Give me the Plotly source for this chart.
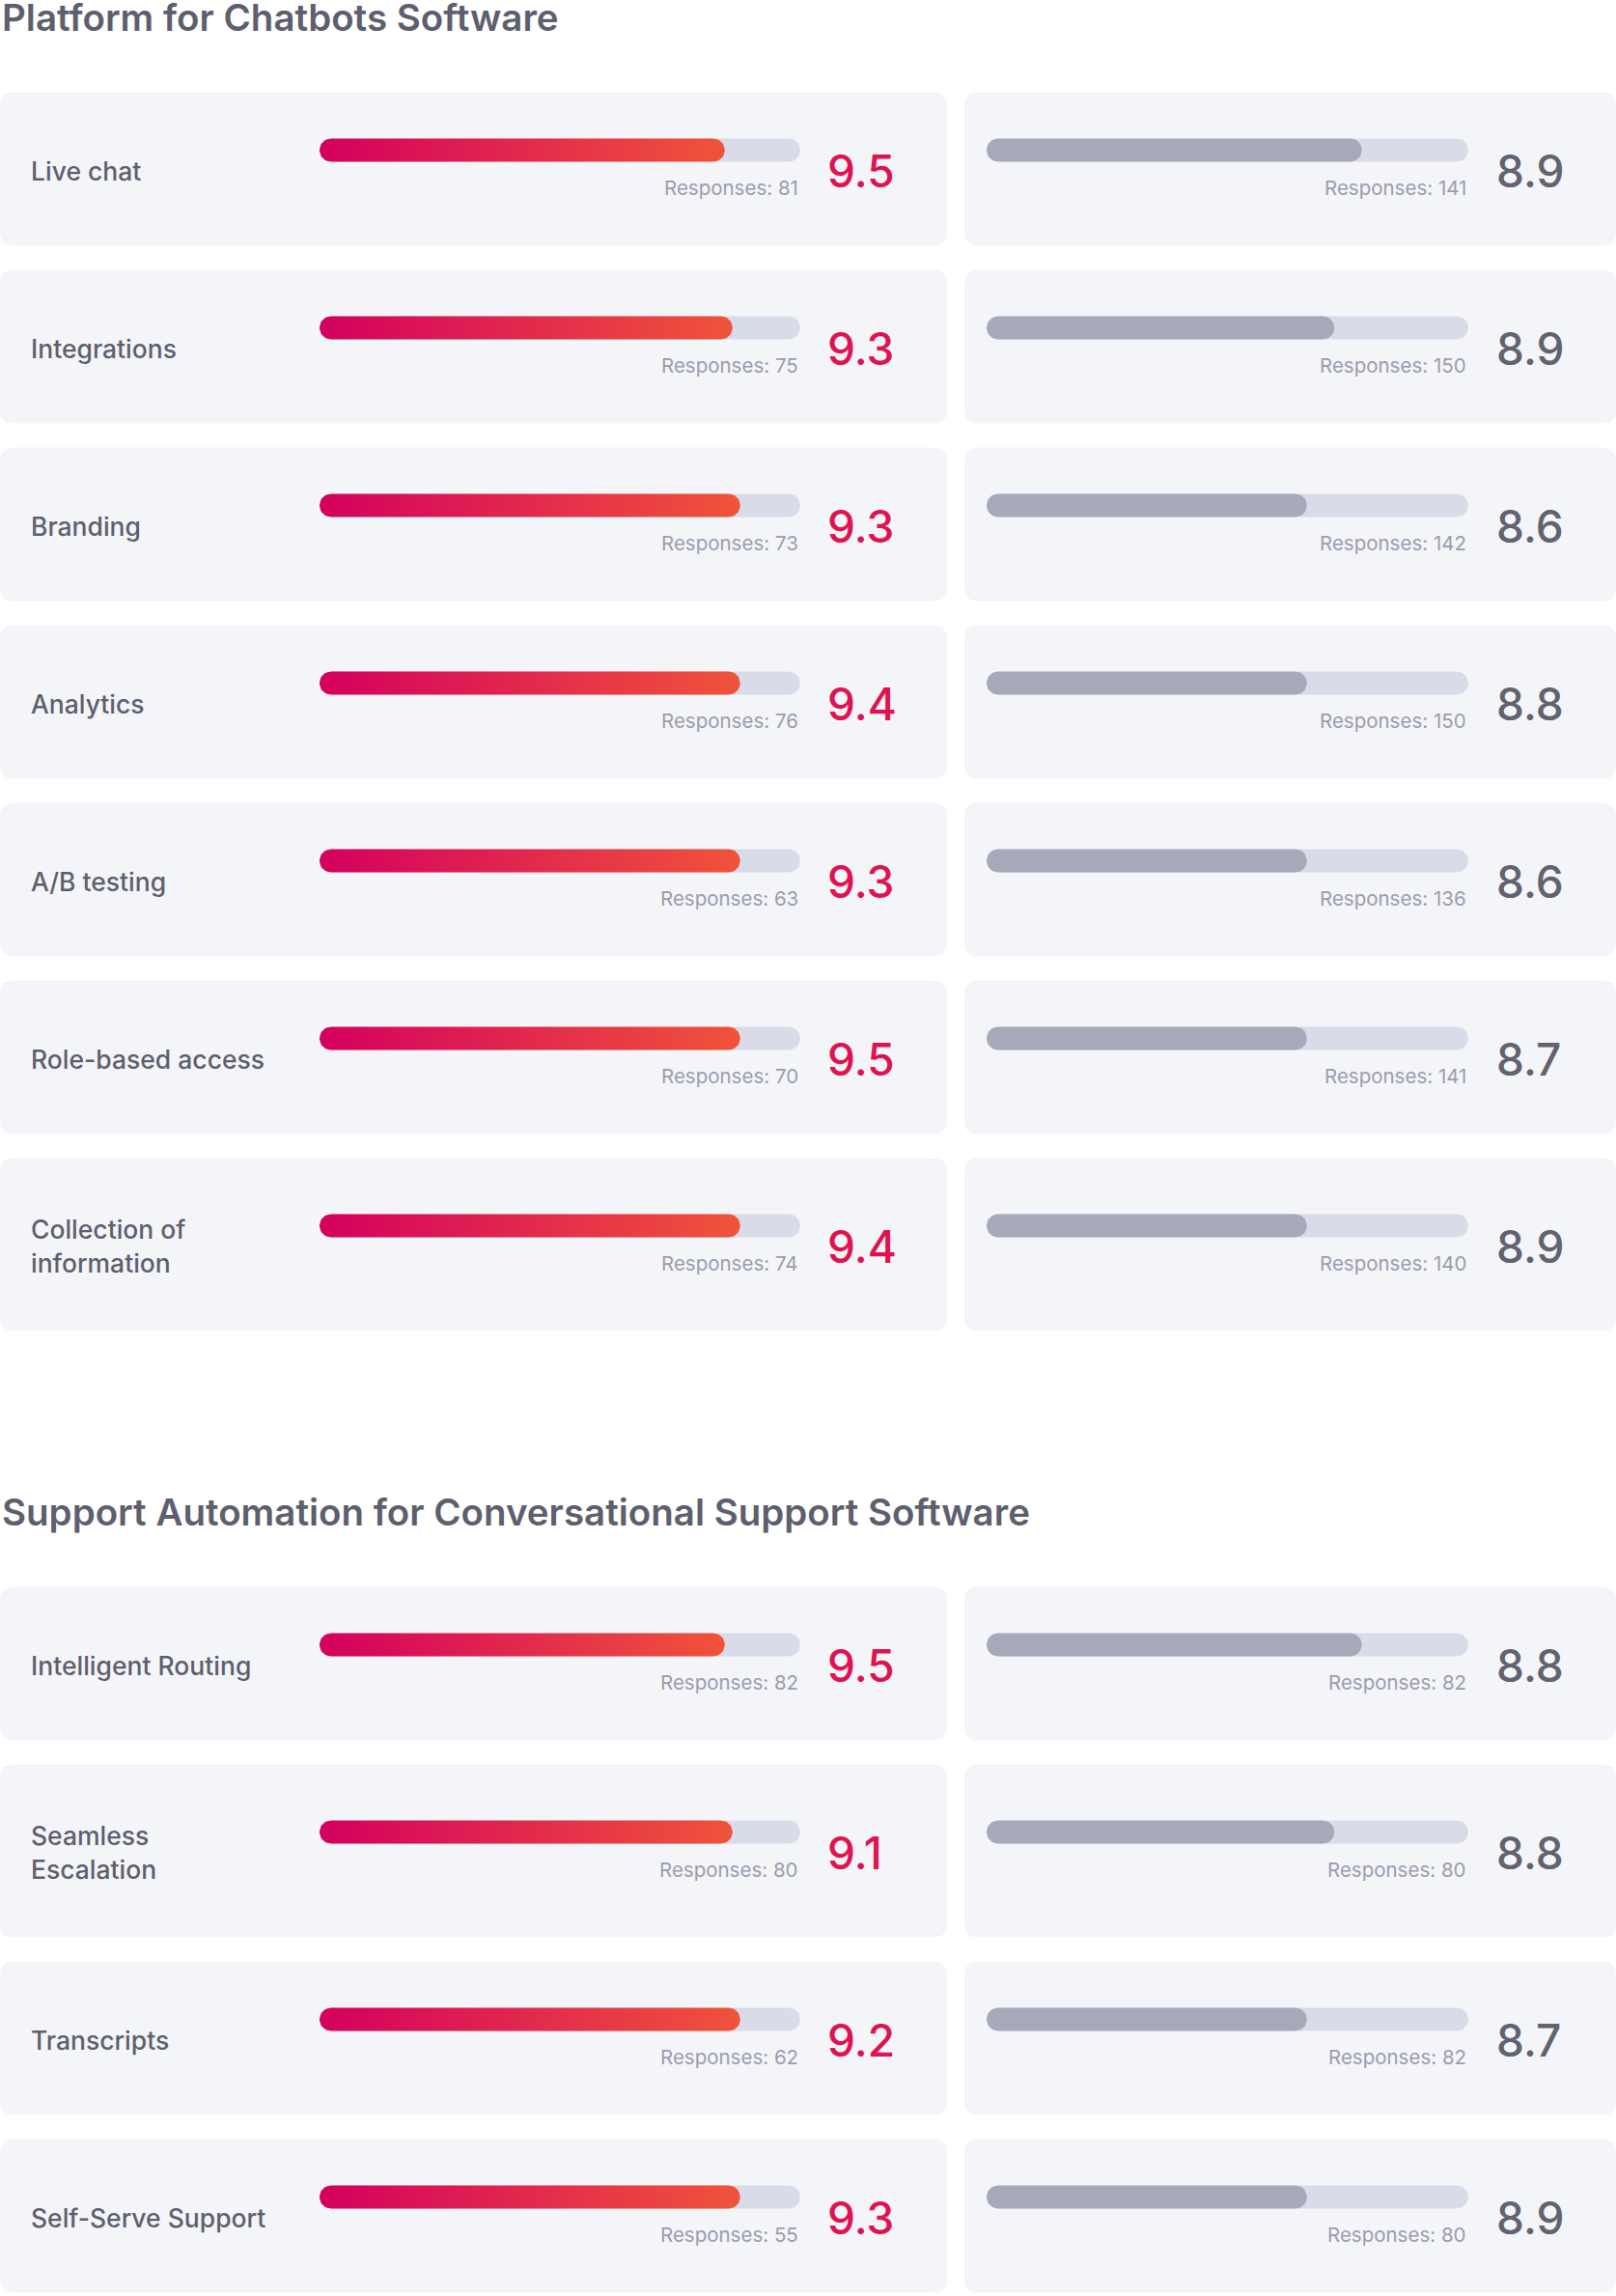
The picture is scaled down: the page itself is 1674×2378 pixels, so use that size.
import plotly.graph_objects as go
import numpy as np

W, H = 1674, 2378

# ---------------- data ----------------
section_titles = ["Platform for Chatbots Software",
                  "Support Automation for Conversational Support Software"]

features_1 = ["Live chat", "Integrations", "Branding", "Analytics", "A/B testing",
              "Role-based access", "Collection of<br>information"]
scores_a_1 = [9.5, 9.3, 9.3, 9.4, 9.3, 9.5, 9.4]
responses_a_1 = [81, 75, 73, 76, 63, 70, 74]
bar_a_1 = [84.3, 85.9, 87.5, 87.5, 87.5, 87.5, 87.5]
scores_b_1 = [8.9, 8.9, 8.6, 8.8, 8.6, 8.7, 8.9]
responses_b_1 = [141, 150, 142, 150, 136, 141, 140]
bar_b_1 = [77.9, 72.2, 66.5, 66.5, 66.5, 66.5, 66.5]

features_2 = ["Intelligent Routing", "Seamless<br>Escalation", "Transcripts", "Self-Serve Support"]
scores_a_2 = [9.5, 9.1, 9.2, 9.3]
responses_a_2 = [82, 80, 62, 55]
bar_a_2 = [84.3, 85.9, 87.5, 87.5]
scores_b_2 = [8.8, 8.8, 8.7, 8.9]
responses_b_2 = [82, 80, 82, 80]
bar_b_2 = [77.9, 72.2, 66.5, 66.5]

bar_max = 100

# ---------------- style / layout ----------------
FONT = "Inter"
C_TITLE = "#5e5f6e"
C_LABEL = "#5e5f6e"
C_RESP = "#9b9caf"
C_SCORE_A = "#e0124f"
C_SCORE_B = "#62636f"
C_CARD = "#f4f5f9"
C_TRACK = "#d9dbe8"
C_FILL_B = "#a7a9bb"
GRAD_A = [[0, "#d4005f"], [1, "#f0533a"]]

CARD_L = (0, 981)
CARD_R = (999, 1674)
TRACK_L = (331, 829)
TRACK_R = (1022, 1521)
CARD_H1, CARD_H2, GAP = 159, 179, 25
RADIUS = 14
BAR_HALF = 12  # half thickness in px

fig = go.Figure()
shapes = []
annotations = []


def px(x):
    return x / W


def rounded_path(x0, y0, x1, y1, r):
    X0, X1, RX = px(x0), px(x1), px(r)
    return (f"M {X0+RX},{y0} L {X1-RX},{y0} Q {X1},{y0} {X1},{y0+r} "
            f"L {X1},{y1-r} Q {X1},{y1} {X1-RX},{y1} L {X0+RX},{y1} "
            f"Q {X0},{y1} {X0},{y1-r} L {X0},{y0+r} Q {X0},{y0} {X0+RX},{y0} Z")


def stadium(x0, x1, yc, rx, ry, n=24):
    a1 = np.linspace(-np.pi / 2, np.pi / 2, n)
    a2 = np.linspace(np.pi / 2, 3 * np.pi / 2, n)
    xs = np.concatenate([x1 - rx + rx * np.cos(a1), x0 + rx + rx * np.cos(a2)])
    ys = np.concatenate([yc + ry * np.sin(a1), yc + ry * np.sin(a2)])
    xs = np.append(xs, xs[0])
    ys = np.append(ys, ys[0])
    return xs, ys


def add_text(x, y, text, size, color, weight, xanchor="left"):
    annotations.append(dict(x=px(x), y=y, xref="paper", yref="y", text=text, showarrow=False,
                            xanchor=xanchor, yanchor="middle",
                            font=dict(family=FONT, size=size, color=color, weight=weight)))


def add_bar(axis, value, yc, gradient):
    track_px = (TRACK_L if axis == "x" else TRACK_R)
    rx = BAR_HALF * bar_max / (track_px[1] - track_px[0])
    tx, ty = stadium(0, bar_max, yc, rx, BAR_HALF)
    fig.add_trace(go.Scatter(x=tx, y=ty, xaxis=axis, yaxis="y", mode="lines",
                             fill="toself", fillcolor=C_TRACK, line=dict(width=0),
                             hoverinfo="skip", showlegend=False))
    fx, fy = stadium(0, value, yc, rx, BAR_HALF)
    kw = dict(fillcolor=C_FILL_B)
    if gradient:
        kw = dict(fillgradient=dict(type="horizontal", colorscale=GRAD_A))
    fig.add_trace(go.Scatter(x=fx, y=fy, xaxis=axis, yaxis="y", mode="lines",
                             fill="toself", line=dict(width=0),
                             hoverinfo="skip", showlegend=False, **kw))


sections = [
    (section_titles[0], features_1, scores_a_1, responses_a_1, bar_a_1,
     scores_b_1, responses_b_1, bar_b_1),
    (section_titles[1], features_2, scores_a_2, responses_a_2, bar_a_2,
     scores_b_2, responses_b_2, bar_b_2),
]

y_title = 18
for (title, feats, sa, ra, ba, sb, rb, bb) in sections:
    add_text(0, y_title, title, 38.5, C_TITLE, 600)
    y = y_title + 77.5
    for f, s1, r1, b1, s2, r2, b2 in zip(feats, sa, ra, ba, sb, rb, bb):
        lines = f.split("<br>")
        h = CARD_H2 if len(lines) > 1 else CARD_H1
        for (cx0, cx1) in (CARD_L, CARD_R):
            shapes.append(dict(type="path", path=rounded_path(cx0, y, cx1, y + h, RADIUS),
                               xref="paper", yref="y", fillcolor=C_CARD,
                               line=dict(width=0), layer="below"))
        c = y + h / 2
        n = len(lines)
        for i, ln in enumerate(lines):
            add_text(30, c + 1.5 + (i - (n - 1) / 2) * 34.5, ln, 26.5, C_LABEL, 500)
        add_bar("x", b1, c - 19.5, True)
        add_bar("x2", b2, c - 19.5, False)
        add_text(TRACK_L[1], c + 19, f"Responses: {r1}", 20.5, C_RESP, 400, "right")
        add_text(TRACK_R[1], c + 19, f"Responses: {r2}", 20.5, C_RESP, 400, "right")
        add_text(855, c + 1.5, f"{s1:.1f}", 46, C_SCORE_A, 500)
        add_text(1548, c + 1.5, f"{s2:.1f}", 46, C_SCORE_B, 500)
        y += h + GAP
    y_title = y - GAP + 187.5

hidden = dict(visible=False, showgrid=False, zeroline=False, fixedrange=True)
fig.update_layout(
    width=W, height=H,
    margin=dict(l=0, r=0, t=0, b=0, pad=0),
    paper_bgcolor="white", plot_bgcolor="rgba(0,0,0,0)",
    xaxis=dict(domain=[px(TRACK_L[0]), px(TRACK_L[1])], range=[0, bar_max], anchor="y", **hidden),
    xaxis2=dict(domain=[px(TRACK_R[0]), px(TRACK_R[1])], range=[0, bar_max], anchor="y", **hidden),
    yaxis=dict(domain=[0, 1], range=[H, 0], **hidden),
    shapes=shapes, annotations=annotations,
    showlegend=False,
)

fig.write_html("out.html", config=dict(displayModeBar=False),
               post_script="document.body.style.margin='0';")
